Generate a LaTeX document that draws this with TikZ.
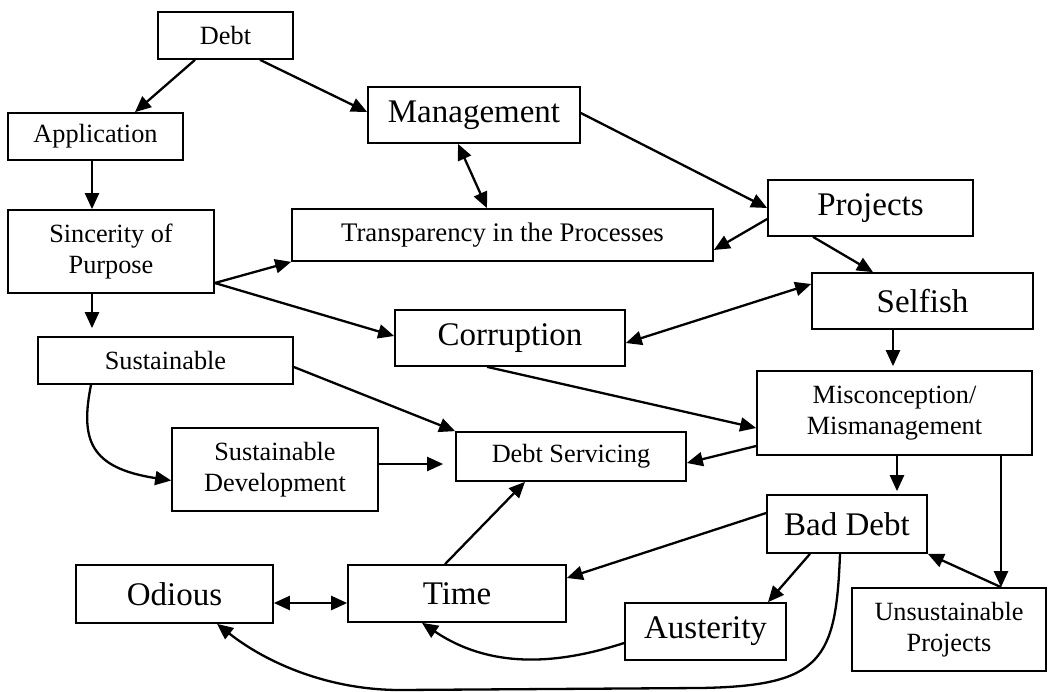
\documentclass[tikz,border=0pt]{standalone}
\usepackage{fontspec}
\setmainfont{Liberation Serif}
\usetikzlibrary{arrows.meta}
\tikzset{
  box/.style={draw, line width=1.7pt, rectangle, inner sep=0pt, align=center},
  sm/.style={font=\fontsize{26.3}{31}\selectfont},
  lg/.style={font=\fontsize{33}{39}\selectfont},
  conn/.style={line width=2.3pt, -{Triangle[length=16pt,width=14pt]}},
  bconn/.style={line width=2.3pt, {Triangle[length=16pt,width=14pt]}-{Triangle[length=16pt,width=14pt]}},
}
\begin{document}
\begin{tikzpicture}[x=1pt,y=-1pt]
\useasboundingbox (0,0) rectangle (1055,691);
% nodes
\node[box,sm,minimum width=135pt,minimum height=47pt] (debt) at (225.5,35.5) {Debt};
\node[box,sm,minimum width=175pt,minimum height=47pt] (app) at (95.5,136.5) {Application};
\node[box,lg,minimum width=212pt,minimum height=56pt] (mgmt) at (474,115) {Management};
\node[box,sm,minimum width=206pt,minimum height=83pt] (sinc) at (111,251.5) {Sincerity of\\Purpose};
\node[box,font=\fontsize{26.8}{31}\selectfont,minimum width=421pt,minimum height=52pt] (trans) at (502.5,235) {Transparency in the Processes};
\node[box,lg,minimum width=205pt,minimum height=56pt] (proj) at (870.5,208) {Projects};
\node[box,lg,minimum width=221pt,minimum height=56pt] (self) at (922.5,301) {Selfish};
\node[box,lg,minimum width=230pt,minimum height=56pt] (corr) at (510,338) {Corruption};
\node[box,sm,minimum width=255pt,minimum height=47pt] (sust) at (165.5,360.5) {Sustainable};
\node[box,sm,minimum width=206pt,minimum height=83pt] (sdev) at (275,469.5) {Sustainable\\Development};
\node[box,sm,minimum width=230pt,minimum height=49pt] (dserv) at (571,456.5) {Debt Servicing};
\node[box,sm,minimum width=275pt,minimum height=84pt] (misc) at (894.5,413) {Misconception/\\Mismanagement};
\node[box,lg,minimum width=160pt,minimum height=58pt] (bad) at (847,524) {Bad Debt};
\node[box,sm,minimum width=194pt,minimum height=83pt] (unsus) at (949,629.5) {Unsustainable\\Projects};
\node[box,lg,minimum width=161pt,minimum height=57pt] (aust) at (705.5,631.5) {Austerity};
\node[box,lg,minimum width=218pt,minimum height=57pt] (time) at (457,593.5) {Time};
\node[box,lg,minimum width=197pt,minimum height=58pt] (odious) at (174.5,594) {Odious};
% connectors
\draw[conn] ([xshift=-30.5pt]debt.south) -- ([xshift=39.5pt]app.north);
\draw[conn] ([xshift=34.5pt]debt.south) -- ([yshift=3pt]mgmt.west);
\draw[conn] ([xshift=-3.5pt]app.south) -- ([xshift=-19pt]sinc.north);
\draw[bconn] ([xshift=-16pt]mgmt.south) -- ([xshift=-15.5pt]trans.north);
\draw[conn] ([yshift=2pt]mgmt.east) -- (proj.west);
\draw[conn] ([yshift=-11pt]proj.west) -- ([yshift=-15pt]trans.east);
\draw[conn] ([xshift=-57.5pt]proj.south) -- ([xshift=-49.5pt]self.north);
\draw[conn] ([yshift=-31.5pt]sinc.east) -- (trans.south west);
\draw[conn] ([yshift=-31.5pt]sinc.east) -- ([yshift=2pt]corr.west);
\draw[conn, shorten >=8pt] ([xshift=-19pt]sinc.south) -- ([xshift=-73.5pt]sust.north);
\draw[bconn] ([yshift=-5pt]corr.east) -- ([yshift=17pt]self.west);
\draw[conn, shorten >=4pt] ([xshift=-29.5pt]self.south) -- ([xshift=-1.5pt]misc.north);
\draw[conn] ([xshift=-23pt]corr.south) -- ([yshift=-15pt]misc.west);
\draw[conn] ([yshift=-6.5pt]sust.east) -- (dserv.north west);
\draw[conn] ([xshift=-74.5pt]sust.south) .. controls (80,440) and (90,468) .. ([yshift=-11pt]sdev.west);
\draw[conn, shorten >=12pt] ([yshift=5.5pt]sdev.east) -- ([yshift=-7.5pt]dserv.west);
\draw[conn] ([yshift=-33pt]misc.west) -- ([yshift=-6.5pt]dserv.east);
\draw[conn, shorten >=3pt] ([xshift=2.5pt]misc.south) -- ([xshift=50pt]bad.north);
\draw[conn] ([xshift=106.5pt]misc.south) -- ([xshift=52pt]unsus.north);
\draw[conn] ([xshift=52pt]unsus.north) -- (bad.south east);
\draw[conn] ([yshift=11pt]bad.west) -- ([yshift=15.5pt]time.east);
\draw[conn] ([xshift=-12pt]time.north) -- ([xshift=-46pt]dserv.south);
\draw[conn] ([xshift=-37pt]bad.south) -- ([xshift=62.5pt]aust.north);
\draw[bconn] ([yshift=-9pt]odious.east) -- ([yshift=-9.5pt]time.west);
\draw[conn] ([yshift=-11.5pt]aust.west) .. controls (565,662) and (495,672) .. ([xshift=-35pt]time.south);
\draw[conn] ([xshift=-7pt]bad.south) .. controls (836,660) and (822,686) .. (700,688) -- (400,690) .. controls (330,690) and (268,664) .. ([xshift=42.5pt]odious.south);
\end{tikzpicture}
\end{document}
